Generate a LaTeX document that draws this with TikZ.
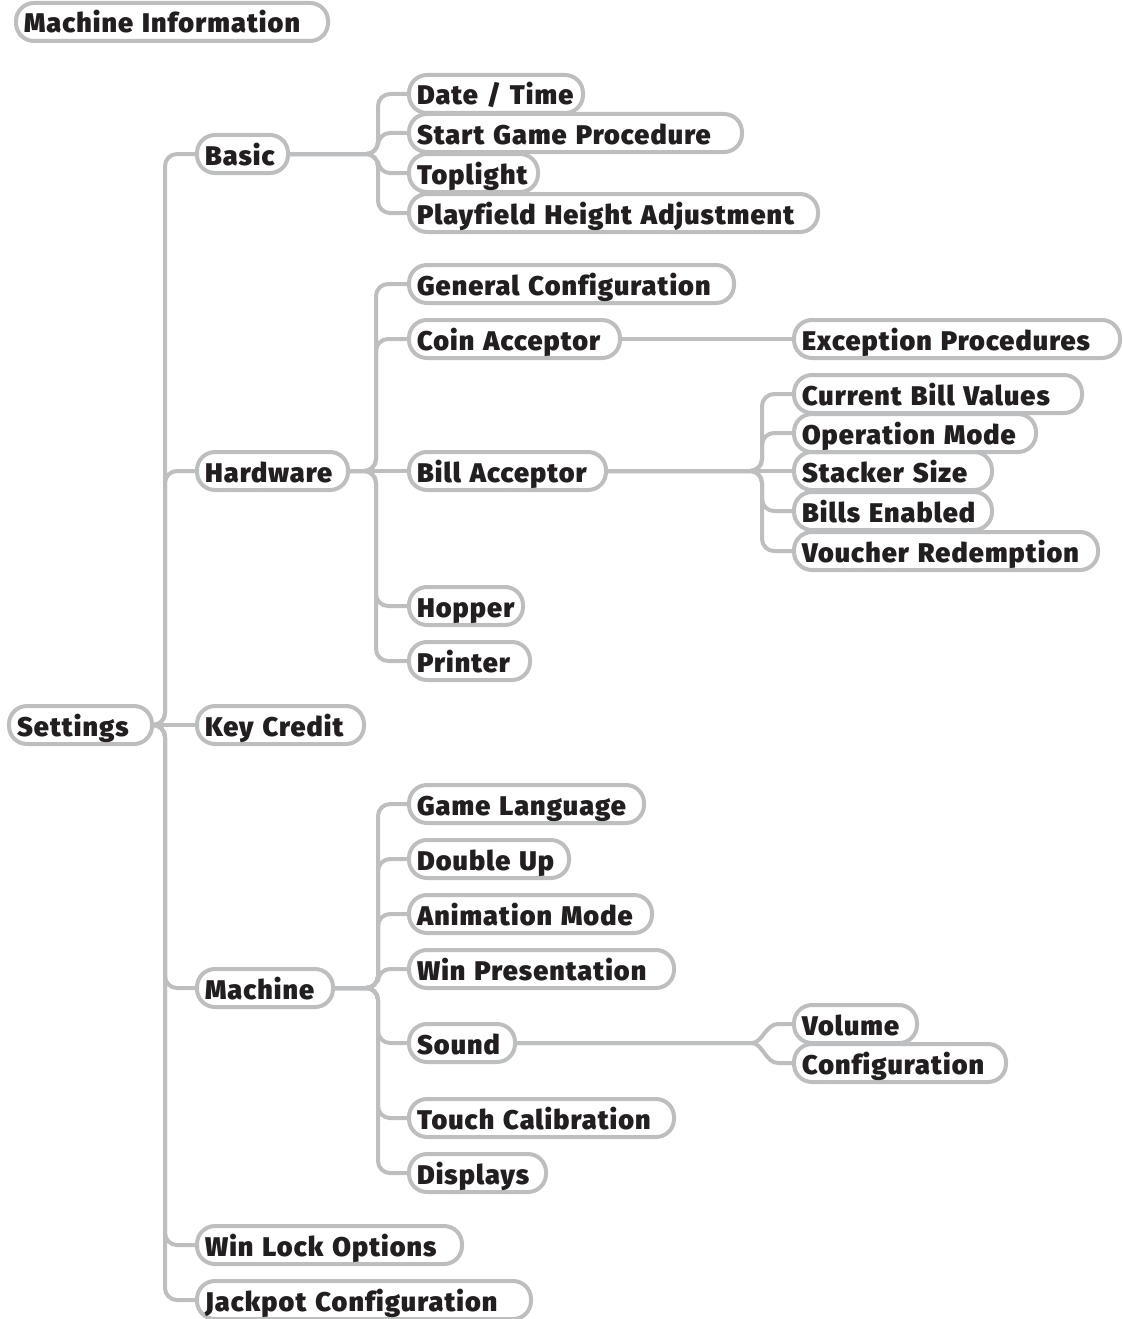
\documentclass[tikz,border=0pt]{standalone}
\usepackage{fontspec}
\setmainfont{Fira Sans}[BoldFont={Fira Sans Black},
  BoldFeatures={LetterSpace=4}, Ligatures=NoCommon]
\definecolor{linegray}{HTML}{BCBEC0}
\definecolor{ink}{HTML}{231F20}
\tikzset{
  menu/.style={draw=linegray, line width=4pt, rounded corners=18pt,
    minimum height=38pt, inner xsep=8pt, inner ysep=0pt, anchor=west,
    align=left, text height=22pt, text depth=0pt, text=ink,
    font=\fontsize{27}{30}\selectfont\bfseries},
  conn/.style={draw=linegray, line width=4pt, rounded corners=12pt},
}
% \mnode{name}{outer left}{outer right}{centre y}{label}
\newcommand\mnode[5]{%
  \pgfmathsetmacro\mtw{#3-#2-20}%
  \node[menu, text width=\mtw pt] (#1) at (#2+2,#4) {#5};}
\begin{document}
\begin{tikzpicture}[x=1pt,y=-1pt]
\useasboundingbox (0,0) rectangle (1123,1319);

% root entries
\mnode{info}{12}{328}{22}{Machine Information}
\mnode{settings}{5}{152}{725}{Settings}

% first level under Settings
\mnode{basic}{193}{288}{154}{Basic}
\mnode{hardware}{193}{348}{471}{Hardware}
\mnode{keycredit}{193}{364}{725}{Key Credit}
\mnode{machine}{193}{333}{988}{Machine}
\mnode{winlock}{193}{462}{1245}{Win Lock Options}
\mnode{jackpot}{193}{531}{1300}{Jackpot Configuration}

% Basic
\mnode{datetime}{405}{583}{94}{Date / Time}
\mnode{startgame}{405}{742}{133}{Start Game Procedure}
\mnode{toplight}{405}{538}{173}{Toplight}
\mnode{playfield}{405}{818}{213}{Playfield Height Adjustment}

% Hardware
\mnode{general}{405}{734}{284}{General Configuration}
\mnode{coin}{405}{620}{339}{Coin Acceptor}
\mnode{exception}{790}{1120}{339}{Exception Procedures}
\mnode{bill}{405}{606}{471}{Bill Acceptor}
\mnode{hopper}{405}{523}{606}{Hopper}
\mnode{printer}{405}{530}{661}{Printer}

% Bill Acceptor
\mnode{billvalues}{790}{1082}{394}{Current Bill Values}
\mnode{opmode}{790}{1036}{433}{Operation Mode}
\mnode{stacker}{790}{992}{471}{Stacker Size}
\mnode{billsen}{790}{992}{511}{Bills Enabled}
\mnode{voucher}{790}{1098}{551}{Voucher Redemption}

% Machine
\mnode{language}{405}{644}{804}{Game Language}
\mnode{doubleup}{405}{569}{859}{Double Up}
\mnode{animation}{405}{652}{914}{Animation Mode}
\mnode{winpres}{405}{674}{969}{Win Presentation}
\mnode{sound}{405}{515}{1043}{Sound}
\mnode{touch}{405}{674}{1118}{Touch Calibration}
\mnode{displays}{405}{546}{1173}{Displays}

% Sound
\mnode{volume}{790}{917}{1024}{Volume}
\mnode{soundcfg}{790}{1006}{1063}{Configuration}

% branch points
\coordinate (tSet) at (165,725);
\coordinate (tBas) at (378,154);
\coordinate (tHw) at (376,471);
\coordinate (tBill) at (762,471);
\coordinate (tMac) at (378,988);
\coordinate (tSnd) at (752,1043);

% Settings
\foreach \c in {basic,hardware,machine,winlock,jackpot}
  \draw[conn] (settings.east) -- (tSet) |- (\c.west);
\draw[conn] (settings.east) -- (keycredit.west);

% Basic
\foreach \c in {datetime,startgame,toplight,playfield}
  \draw[conn] (basic.east) -- (tBas) |- (\c.west);

% Hardware
\foreach \c in {general,coin,hopper,printer}
  \draw[conn] (hardware.east) -- (tHw) |- (\c.west);
\draw[conn] (hardware.east) -- (bill.west);
\draw[conn] (coin.east) -- (exception.west);

% Bill Acceptor
\foreach \c in {billvalues,opmode,billsen,voucher}
  \draw[conn] (bill.east) -- (tBill) |- (\c.west);
\draw[conn] (bill.east) -- (stacker.west);

% Machine
\foreach \c in {language,doubleup,animation,winpres,sound,touch,displays}
  \draw[conn] (machine.east) -- (tMac) |- (\c.west);

% Sound
\draw[conn, rounded corners=0pt] (sound.east) -- (tSnd)
  .. controls (762,1043) and (766,1024) .. (778,1024) -- (volume.west);
\draw[conn, rounded corners=0pt] (sound.east) -- (tSnd)
  .. controls (762,1043) and (766,1063) .. (778,1063) -- (soundcfg.west);
\end{tikzpicture}
\end{document}
